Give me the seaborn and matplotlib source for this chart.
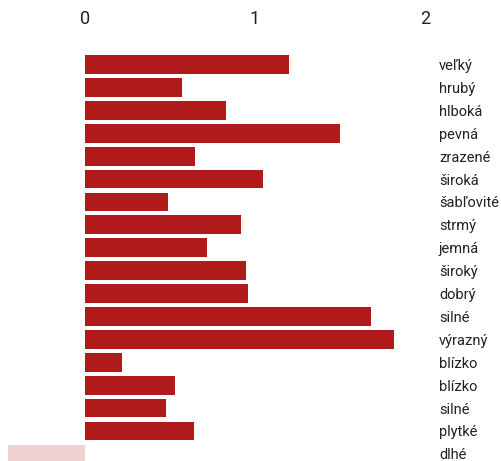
import numpy as np
import pandas as pd
import matplotlib
matplotlib.use("Agg")
import matplotlib.pyplot as plt
import seaborn as sns

# values
words = ["veľký", "hrubý", "hlboká", "pevná", "zrazené", "široká", "šabľovité",
         "strmý", "jemná", "široký", "dobrý", "silné", "výrazný", "blízko",
         "blízko", "silné", "plytké", "dlhé"]
scores = [1.20, 0.57, 0.83, 1.50, 0.65, 1.05, 0.49, 0.92, 0.72, 0.95,
          0.96, 1.68, 1.82, 0.22, 0.53, 0.48, 0.64, -0.45]

pos_color = "#b01a1a"
neg_color = "#f0d2d2"

sns.set_style("white")
plt.rcParams["font.family"] = ["Roboto", "DejaVu Sans"]

df = pd.DataFrame({"row": [str(i) for i in range(len(words))],
                   "word": words, "score": scores})
colors = [pos_color if s >= 0 else neg_color for s in scores]

fig = plt.figure(figsize=(5.02, 4.61), dpi=100)
ax = fig.add_axes([8 / 502, 0, 417 / 502, 411 / 461])

sns.barplot(data=df, x="score", y="row", hue="row", palette=colors,
            orient="h", legend=False, width=0.82, saturation=1,
            linewidth=0, ax=ax)

ax.set_xlim(-0.45, 2.0)
ax.set_ylim(17.31, -0.633)
ax.set_xticks([0, 1, 2])
ax.set_xticklabels(["0", "1", "2"])
ax.xaxis.tick_top()
ax.yaxis.tick_right()
ax.set_yticks(range(len(words)))
ax.set_yticklabels(words)
ax.tick_params(axis="x", length=0, pad=16, labelsize=13, colors="#222222")
ax.tick_params(axis="y", length=0, pad=10, labelsize=10.5, colors="#222222")
for lab in ax.get_yticklabels():
    lab.set_horizontalalignment("left")
ax.set_xlabel("")
ax.set_ylabel("")
sns.despine(ax=ax, left=True, bottom=True, top=True, right=True)

fig.savefig("out.png", dpi=100)
